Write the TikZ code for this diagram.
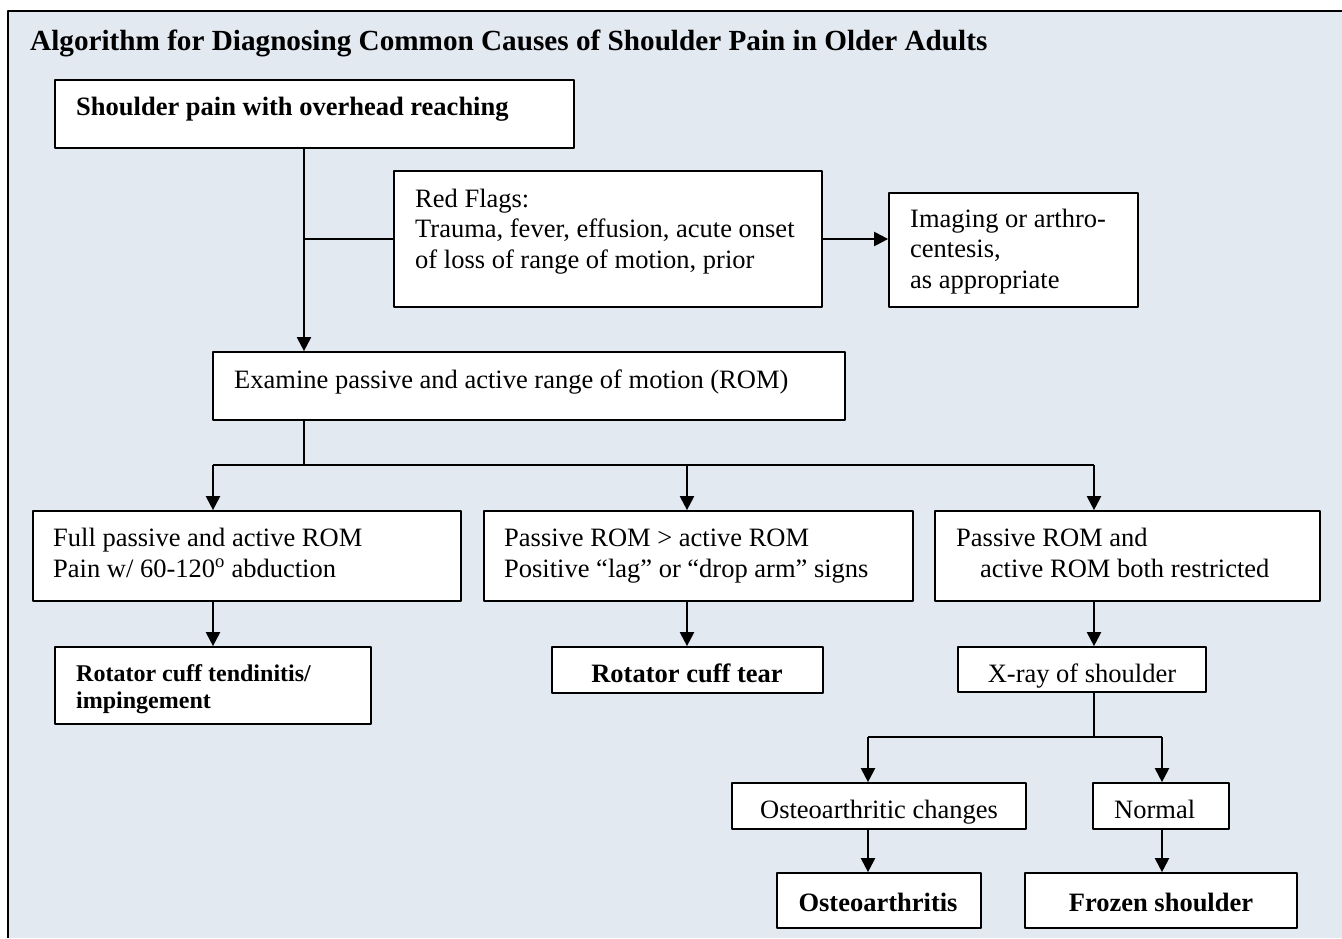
\documentclass[tikz,border=0pt]{standalone}
\usepackage{fontspec}
\setmainfont{Liberation Serif}
\usetikzlibrary{arrows.meta,positioning,calc}
\definecolor{panelblue}{RGB}{227,233,241}
\newcommand\regfont{\fontsize{26.5}{30.5}\selectfont}
\newcommand\flowbox[5]
{
\node[box, minimum width={#4-#2}, minimum height={#5-#3}] (#1) at ({(#2+#4)/2},{(#3+#5)/2}) {};
}

\begin{document}
\begin{tikzpicture}[x=1pt, y=-1pt, line join=round,
  >={Triangle[length=14pt,width=14pt]},
  box/.style={draw=black, line width=1.7pt, fill=white, inner sep=0},
  txt/.style={inner sep=0, anchor=base west, align=left, font=\regfont},
  hd/.style={txt, font=\regfont\bfseries},
  link/.style={line width=2.1pt}]
\useasboundingbox (0,0) rectangle (1342,938);
\fill[white] (0,0) rectangle (1342,938);
\fill[panelblue] (8,11) rectangle (1342,938);
\draw[line width=2pt] (8,938) -- (8,11) -- (1342,11);
\node[txt, font=\fontsize{29.2}{34}\selectfont\bfseries] (title) at (30,50)
  {Algorithm for Diagnosing Common Causes of Shoulder Pain in Older Adults};
% boxes
\flowbox{shoulder}{55}{80}{574}{148}
\flowbox{redflags}{394}{171}{822}{307}
\flowbox{imaging}{889}{193}{1138}{307}
\flowbox{rom}{213}{352}{845}{420}
\flowbox{full}{33}{511}{461}{601}
\flowbox{passive}{484}{511}{913}{601}
\flowbox{both}{935}{511}{1320}{601}
\flowbox{tendinitis}{55}{647}{371}{724}
\flowbox{tear}{552}{647}{823}{693}
\flowbox{xray}{958}{647}{1206}{692}
\flowbox{osteochg}{732}{783}{1026}{829}
\flowbox{normal}{1093}{783}{1229}{829}
\flowbox{osteo}{777}{873}{981}{928}
\flowbox{frozen}{1025}{873}{1297}{928}
% texts (multi-line ones sit on their last baseline)
\node[hd]  (shoulder-t) at (76,115)  {Shoulder pain with overhead reaching};
\node[txt] (redflags-t) at (415,268) {Red Flags:\\Trauma, fever, effusion, acute onset\\of loss of range of motion, prior};
\node[txt] (imaging-t)  at (910,288) {Imaging or arthro-\\centesis,\\as appropriate};
\node[txt] (rom-t)      at (234,388) {Examine passive and active range of motion (ROM)};
\node[txt] (full-t)     at (53,577)  {Full passive and active ROM\\Pain w/ 60-120\textsuperscript{o} abduction};
\node[txt] (passive-t)  at (504,577) {Passive ROM > active ROM\\Positive “lag” or “drop arm” signs};
\node[txt] (both-t)     at (956,577) {Passive ROM and\\\hspace*{24pt}active ROM both restricted};
\node[txt, font=\fontsize{24}{27}\selectfont\bfseries] (tendinitis-t) at (76,708) {Rotator cuff tendinitis/\\impingement};
\node[hd, anchor=base]  (tear-t)     at (687,682)  {Rotator cuff tear};
\node[txt, anchor=base] (xray-t)     at (1082,682) {X-ray of shoulder};
\node[txt, anchor=base] (osteochg-t) at (879,818)  {Osteoarthritic changes};
\node[txt]              (normal-t)   at (1114,818) {Normal};
\node[hd, anchor=base]  (osteo-t)    at (878,911)  {Osteoarthritis};
\node[hd, anchor=base]  (frozen-t)   at (1161,911) {Frozen shoulder};
% lanes
\coordinate (J1) at (304,239);
\coordinate (J2) at (304,465);
\coordinate (B1) at (213,465);
\coordinate (B2) at (687,465);
\coordinate (B3) at (1094,465);
\coordinate (J3) at (1094,737);
\coordinate (C1) at (868,737);
\coordinate (C2) at (1162,737);
% connectors
\draw[link,->] (J1 |- shoulder.south) -- (J1 |- rom.north);
\draw[link] (J1) -- (redflags.west);
\draw[link,->] (redflags.east) -- (redflags.east -| imaging.west);
\draw[link] (J2 |- rom.south) -- (J2);
\draw[link] (B1) -- (B3);
\draw[link,->] (B1) -- (B1 |- full.north);
\draw[link,->] (B2) -- (B2 |- passive.north);
\draw[link,->] (B3) -- (B3 |- both.north);
\draw[link,->] (B1 |- full.south) -- (B1 |- tendinitis.north);
\draw[link,->] (B2 |- passive.south) -- (B2 |- tear.north);
\draw[link,->] (B3 |- both.south) -- (B3 |- xray.north);
\draw[link] (B3 |- xray.south) -- (J3);
\draw[link] (C1) -- (C2);
\draw[link,->] (C1) -- (C1 |- osteochg.north);
\draw[link,->] (C2) -- (C2 |- normal.north);
\draw[link,->] (C1 |- osteochg.south) -- (C1 |- osteo.north);
\draw[link,->] (C2 |- normal.south) -- (C2 |- frozen.north);
\end{tikzpicture}
\end{document}
